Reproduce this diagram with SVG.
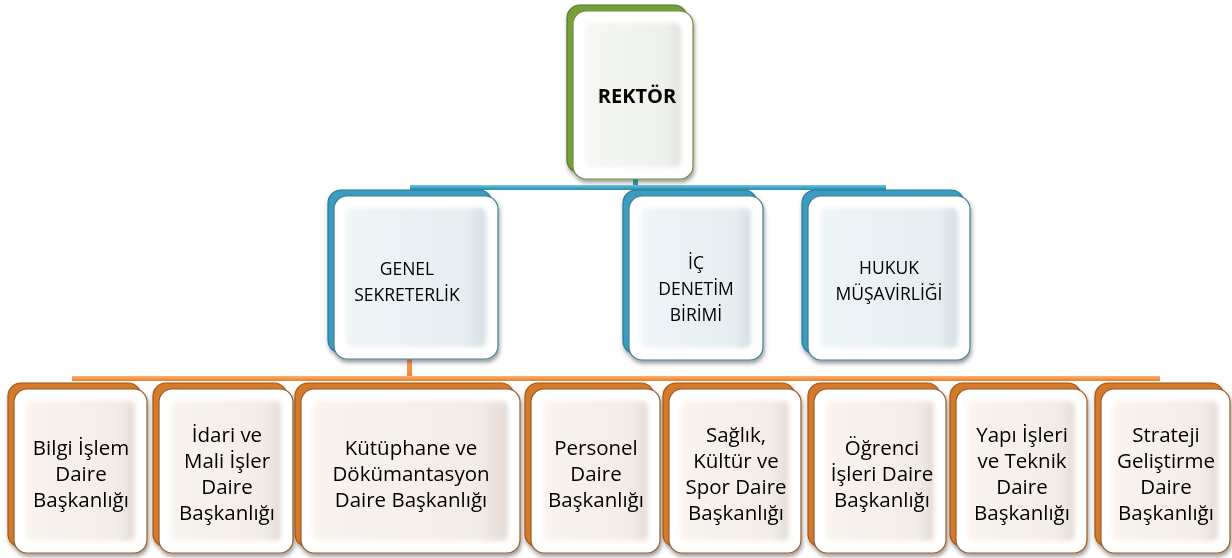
<svg xmlns="http://www.w3.org/2000/svg" width="1232" height="558" viewBox="0 0 1232 558">
  <defs>
    <filter id="shadow" x="-10%" y="-10%" width="125%" height="125%">
      <feDropShadow dx="1" dy="3" stdDeviation="2.2" flood-color="#000" flood-opacity="0.4"/>
    </filter>
    <filter id="soft" x="-10%" y="-10%" width="120%" height="120%">
      <feGaussianBlur stdDeviation="2"/>
    </filter>
    <linearGradient id="gInner" x1="0" y1="0" x2="1" y2="0">
      <stop offset="0" stop-color="#f6f8f4"/>
      <stop offset="0.85" stop-color="#eef0eb"/>
      <stop offset="1" stop-color="#dfe3dc"/>
    </linearGradient>
    <linearGradient id="bInner" x1="0" y1="0" x2="1" y2="0">
      <stop offset="0" stop-color="#eef5f8"/>
      <stop offset="0.85" stop-color="#e6eef2"/>
      <stop offset="1" stop-color="#d5dfe4"/>
    </linearGradient>
    <linearGradient id="oInner" x1="0" y1="0" x2="1" y2="0">
      <stop offset="0" stop-color="#faf4ef"/>
      <stop offset="0.85" stop-color="#f3ece6"/>
      <stop offset="1" stop-color="#e4ddd7"/>
    </linearGradient>
    <linearGradient id="blueLine" x1="0" y1="0" x2="0" y2="1">
      <stop offset="0" stop-color="#7cc6dc"/>
      <stop offset="0.5" stop-color="#3fa6c6"/>
      <stop offset="1" stop-color="#2f8fae"/>
    </linearGradient>
    <linearGradient id="orangeLine" x1="0" y1="0" x2="0" y2="1">
      <stop offset="0" stop-color="#fbb27a"/>
      <stop offset="0.5" stop-color="#f79646"/>
      <stop offset="1" stop-color="#e8822f"/>
    </linearGradient>
  </defs>
  <style>
    .txt { font-family: "Open Sans", "Noto Sans", sans-serif; fill: #000; text-anchor: middle; }
    .r2 { font-size: 17.5px; }
    .r3 { font-size: 20.5px; }
    .bold { font-size: 20px; font-weight: bold; }
    .gBack { fill: #77a03a; stroke: #56772a; stroke-width: 1.2; }
    .gFront { fill: #ffffff; stroke: #6d8f3a; stroke-width: 1.2; }
    .bBack { fill: #3a9cc0; stroke: #277a97; stroke-width: 1.2; }
    .bFront { fill: #ffffff; stroke: #3f7f94; stroke-width: 1.2; }
    .oBack { fill: #d47a2c; stroke: #9e571b; stroke-width: 1.2; }
    .oFront { fill: #ffffff; stroke: #9a5a24; stroke-width: 1.2; }
  </style>

  <g id="connectors">
    <rect x="633" y="176" width="5" height="12" fill="url(#blueLine)"/>
    <rect x="410" y="185" width="476" height="5" fill="url(#blueLine)"/>
    <rect x="407" y="355" width="5" height="24" fill="url(#orangeLine)"/>
    <rect x="72" y="376" width="1088" height="5" fill="url(#orangeLine)"/>
  </g>

  <g id="rektor" filter="url(#shadow)">
    <rect class="gBack" x="567" y="5" width="120" height="168" rx="13"/>
    <rect class="gFront" x="573" y="11" width="120" height="168" rx="13"/>
    <rect x="585" y="23" width="96" height="144" rx="6" fill="url(#gInner)" filter="url(#soft)"/>
    <text class="txt bold" x="637" y="103">REKTÖR</text>
  </g>

  <g id="genel-sekreterlik" filter="url(#shadow)">
    <rect class="bBack" x="328" y="190" width="164" height="163" rx="13"/>
    <rect class="bFront" x="334" y="196" width="164" height="163" rx="13"/>
    <rect x="346" y="208" width="140" height="139" rx="6" fill="url(#bInner)" filter="url(#soft)"/>
    <text class="txt r2" x="407"><tspan x="407" y="275">GENEL</tspan><tspan x="407" y="301">SEKRETERLİK</tspan></text>
  </g>

  <g id="ic-denetim" filter="url(#shadow)">
    <rect class="bBack" x="623" y="190" width="134" height="164" rx="13"/>
    <rect class="bFront" x="629" y="196" width="134" height="164" rx="13"/>
    <rect x="641" y="208" width="110" height="140" rx="6" fill="url(#bInner)" filter="url(#soft)"/>
    <text class="txt r2" x="696"><tspan x="696" y="269">İÇ</tspan><tspan x="696" y="295">DENETİM</tspan><tspan x="696" y="321">BİRİMİ</tspan></text>
  </g>

  <g id="hukuk" filter="url(#shadow)">
    <rect class="bBack" x="802" y="190" width="162" height="164" rx="13"/>
    <rect class="bFront" x="808" y="196" width="162" height="164" rx="13"/>
    <rect x="820" y="208" width="138" height="140" rx="6" fill="url(#bInner)" filter="url(#soft)"/>
    <text class="txt r2" x="889"><tspan x="889" y="274">HUKUK</tspan><tspan x="889" y="300">MÜŞAVİRLİĞİ</tspan></text>
  </g>

  <g id="bilgi-islem" filter="url(#shadow)">
    <rect class="oBack" x="8" y="383" width="133" height="164" rx="13"/>
    <rect class="oFront" x="14" y="389" width="133" height="164" rx="13"/>
    <rect x="26" y="401" width="109" height="140" rx="6" fill="url(#oInner)" filter="url(#soft)"/>
    <text class="txt r3" x="81"><tspan x="81" y="455">Bilgi İşlem</tspan><tspan x="81" y="481">Daire</tspan><tspan x="81" y="507">Başkanlığı</tspan></text>
  </g>

  <g id="idari-mali" filter="url(#shadow)">
    <rect class="oBack" x="153" y="383" width="134" height="164" rx="13"/>
    <rect class="oFront" x="159" y="389" width="134" height="164" rx="13"/>
    <rect x="171" y="401" width="110" height="140" rx="6" fill="url(#oInner)" filter="url(#soft)"/>
    <text class="txt r3" x="227"><tspan x="227" y="442">İdari ve</tspan><tspan x="227" y="468">Mali İşler</tspan><tspan x="227" y="494">Daire</tspan><tspan x="227" y="520">Başkanlığı</tspan></text>
  </g>

  <g id="kutuphane" filter="url(#shadow)">
    <rect class="oBack" x="295" y="383" width="219" height="164" rx="13"/>
    <rect class="oFront" x="301" y="389" width="219" height="164" rx="13"/>
    <rect x="313" y="401" width="195" height="140" rx="6" fill="url(#oInner)" filter="url(#soft)"/>
    <text class="txt r3" x="411"><tspan x="411" y="455">Kütüphane ve</tspan><tspan x="411" y="481">Dökümantasyon</tspan><tspan x="411" y="507">Daire Başkanlığı</tspan></text>
  </g>

  <g id="personel" filter="url(#shadow)">
    <rect class="oBack" x="525" y="383" width="129" height="164" rx="13"/>
    <rect class="oFront" x="531" y="389" width="129" height="164" rx="13"/>
    <rect x="543" y="401" width="105" height="140" rx="6" fill="url(#oInner)" filter="url(#soft)"/>
    <text class="txt r3" x="596"><tspan x="596" y="455">Personel</tspan><tspan x="596" y="481">Daire</tspan><tspan x="596" y="507">Başkanlığı</tspan></text>
  </g>

  <g id="saglik-kultur-spor" filter="url(#shadow)">
    <rect class="oBack" x="663" y="383" width="132" height="164" rx="13"/>
    <rect class="oFront" x="669" y="389" width="132" height="164" rx="13"/>
    <rect x="681" y="401" width="108" height="140" rx="6" fill="url(#oInner)" filter="url(#soft)"/>
    <text class="txt r3" x="736"><tspan x="736" y="442">Sağlık,</tspan><tspan x="736" y="468">Kültür ve</tspan><tspan x="736" y="494">Spor Daire</tspan><tspan x="736" y="520">Başkanlığı</tspan></text>
  </g>

  <g id="ogrenci-isleri" filter="url(#shadow)">
    <rect class="oBack" x="808" y="383" width="132" height="164" rx="13"/>
    <rect class="oFront" x="814" y="389" width="132" height="164" rx="13"/>
    <rect x="826" y="401" width="108" height="140" rx="6" fill="url(#oInner)" filter="url(#soft)"/>
    <text class="txt r3" x="882"><tspan x="882" y="455">Öğrenci</tspan><tspan x="882" y="481">İşleri Daire</tspan><tspan x="882" y="507">Başkanlığı</tspan></text>
  </g>

  <g id="yapi-isleri" filter="url(#shadow)">
    <rect class="oBack" x="950" y="383" width="131" height="164" rx="13"/>
    <rect class="oFront" x="956" y="389" width="131" height="164" rx="13"/>
    <rect x="968" y="401" width="107" height="140" rx="6" fill="url(#oInner)" filter="url(#soft)"/>
    <text class="txt r3" x="1022"><tspan x="1022" y="442">Yapı İşleri</tspan><tspan x="1022" y="468">ve Teknik</tspan><tspan x="1022" y="494">Daire</tspan><tspan x="1022" y="520">Başkanlığı</tspan></text>
  </g>

  <g id="strateji" filter="url(#shadow)">
    <rect class="oBack" x="1095" y="383" width="129" height="164" rx="13"/>
    <rect class="oFront" x="1101" y="389" width="129" height="164" rx="13"/>
    <rect x="1113" y="401" width="105" height="140" rx="6" fill="url(#oInner)" filter="url(#soft)"/>
    <text class="txt r3" x="1166"><tspan x="1166" y="442">Strateji</tspan><tspan x="1166" y="468">Geliştirme</tspan><tspan x="1166" y="494">Daire</tspan><tspan x="1166" y="520">Başkanlığı</tspan></text>
  </g>
</svg>
